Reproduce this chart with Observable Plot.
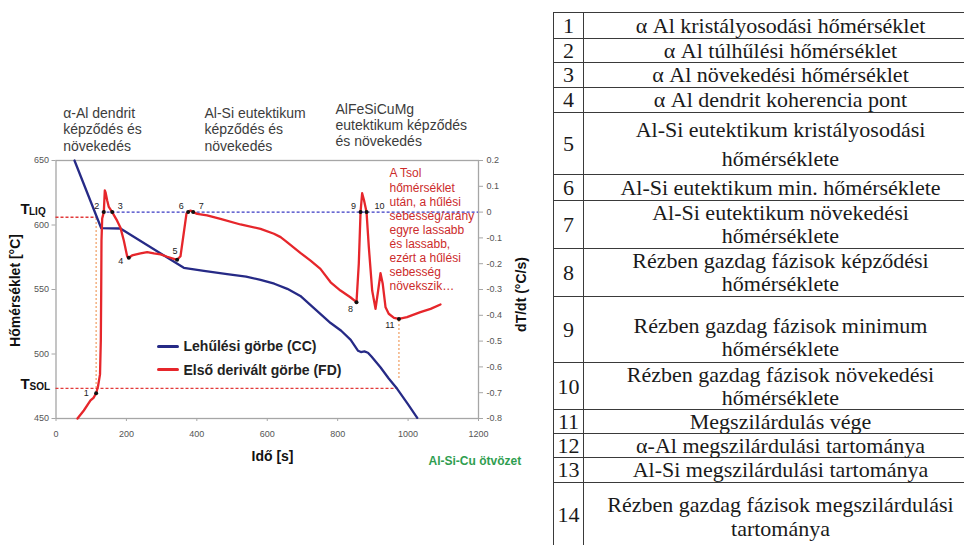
<!DOCTYPE html>
<html><head><meta charset="utf-8">
<script src="https://cdn.jsdelivr.net/npm/d3@7"></script>
<script src="https://cdn.jsdelivr.net/npm/@observablehq/plot@0.6"></script>
<style>
html,body{margin:0;padding:0;background:#fff;width:964px;height:545px;overflow:hidden;position:relative;}
#chart{position:absolute;left:0;top:0;}
#tbl{position:absolute;left:553px;top:12px;border-collapse:collapse;font-family:"Liberation Serif","Times New Roman",serif;font-size:22px;color:#1a1a1a;table-layout:fixed;width:425px;}
#tbl td{border:1.5px solid #3a3a3a;padding:0;text-align:center;line-height:23px;white-space:pre-line;}
#tbl td.n{width:29px;}
</style></head><body>
<div id="chart"></div>
<table id="tbl"></table>
<script>
// ---- data ----
const ccTime = [52.5,128.5,183,363,420,486,540,581,620,657,694,731,780,810,837,858,866,876,886,896,922,945,969,1000,1026];
const ccTemp = [650,597.5,597.3,566.8,564.5,562,560,557.5,554.5,550.5,545,536,524,518,511,502.5,501.5,502,501,498,489.5,481,473,461,450.5];

const fdTime = [61,79,98,106.5,114,119.3,125,127.3,128.4,129.2,131.2,135.8,138.6,141,145.4,150,159.6,171.8,183.2,192.6,202.2,206.8,216,240,259,278,297,316,344,353.6,363,370.7,375.4,382,389.6,401,429,467,524,581,619,638,657,694,723,751,780,808,836,853.5,860,865,869.5,875,882,888.5,898,907.5,915,921.7,928,936,945,960,974,997,1035,1064,1092];
const fdRate = [-0.8,-0.769,-0.73,-0.72,-0.702,-0.676,-0.629,-0.498,-0.304,-0.11,-0.025,0,0.084,0.075,0.045,0.02,0,-0.029,-0.061,-0.11,-0.172,-0.177,-0.168,-0.16,-0.155,-0.16,-0.164,-0.173,-0.185,-0.171,-0.08,-0.005,0,0.006,0,-0.007,-0.013,-0.026,-0.048,-0.065,-0.084,-0.097,-0.117,-0.158,-0.188,-0.22,-0.272,-0.304,-0.33,-0.349,-0.2,0,0.073,0.045,0,-0.136,-0.304,-0.375,-0.304,-0.237,-0.278,-0.369,-0.394,-0.41,-0.414,-0.407,-0.388,-0.375,-0.358];

const pointIds  = [1,2,3,4,5,6,7,8,9,10,11];
const pointTime = [114,135.8,159.6,206.8,344,375.4,389.6,853.5,865,882,974];
const pointRate = [-0.702,0,0,-0.177,-0.185,0,0,-0.349,0,0,-0.414];

const timeTicks = [0,200,400,600,800,1000,1200];
const tempTicks = [650,600,550,500,450];
const rateTicks = [0.2,0.1,0,-0.1,-0.2,-0.3,-0.4,-0.5,-0.6,-0.7,-0.8];

const tLiq = 606, tLiqEnd = 116, tLiqTime = 114;
const tSol = 473.3, tSolEnd = 969;
const zeroStart = 131;
const endTime = 974, endRateTop = -0.414, endRateBottom = -0.645;

const phaseTexts = ["α-Al dendrit\nképződés és\nnövekedés","Al-Si eutektikum\nképződés és\nnövekedés","AlFeSiCuMg\neutektikum képződés\nés növekedés"];
const noteText = "A Tsol\nhőmérséklet\nután, a hűlési\nsebesség/arány\negyre lassabb\nés lassabb,\nezért a hűlési\nsebesség\nnövekszik…";
const legendTexts = ["Lehűlési görbe (CC)","Első derivált görbe (FD)"];

const tableNums = ["1","2","3","4","5","6","7","8","9","10","11","12","13","14"];
const tableTexts = [
 "α Al kristályosodási hőmérséklet",
 "α Al túlhűlési hőmérséklet",
 "α Al növekedési hőmérséklet",
 "α Al dendrit koherencia pont",
 "Al-Si eutektikum kristályosodási\nhőmérséklete",
 "Al-Si eutektikum min. hőmérséklete",
 "Al-Si eutektikum növekedési\nhőmérséklete",
 "Rézben gazdag fázisok képződési\nhőmérséklete",
 "Rézben gazdag fázisok minimum\nhőmérséklete",
 "Rézben gazdag fázisok növekedési\nhőmérséklete",
 "Megszilárdulás vége",
 "α-Al megszilárdulási tartománya",
 "Al-Si megszilárdulási tartománya",
 "Rézben gazdag fázisok megszilárdulási\ntartománya"];
// table layout (styles, not data)
const rowHeights = [25.6,24.4,24.6,25.4,62.3,25.7,47.6,48.4,66,47.3,23.3,24,24.4,64];
const rowPadTop  = [0,0,0,0,0,0,0,0,16,0,0,0,0,6];
const rowLineH   = [23,23,23,23,29,23,23,23,23,23,23,23,23,24];

// ---- build ----
const toT = d => 450 + (d + 0.8) * 200;       // rate axis -> temperature axis
const fromT = v => (v - 450) / 200 - 0.8;
const cc = ccTime.map((t,i) => ({t, T: ccTemp[i]}));
const fd = fdTime.map((t,i) => ({t, T: toT(fdRate[i])}));
const pts = pointIds.map((id,i) => ({id: String(id), t: pointTime[i], T: toT(pointRate[i])}));
const pick = ids => pts.filter(p => ids.includes(+p.id));

const BLUE = "#262a86", RED = "#e6262b", DBLUE = "#3a3ac4", DRED = "#e23a3a", ORANGE = "#f1a46c";
const SANS = "Liberation Sans, Arial, Helvetica, sans-serif";
const pxT = py => 650 - (py - 160) / 1.29;
const pxX = px => (px - 55.5) / 0.352083;

const chart = Plot.plot({
  width: 540, height: 545,
  marginLeft: 55.5, marginRight: 62, marginTop: 160, marginBottom: 127,
  x: {domain: [0, 1200]},
  y: {domain: [450, 650]},
  style: {fontFamily: SANS, background: "white", overflow: "visible"},
  marks: [
    Plot.frame({stroke: "#a6a6a6", strokeWidth: 1.3}),
    Plot.axisX({ticks: timeTicks, tickFormat: d => String(d), tickSize: 3, tickPadding: 9, fontSize: 9, stroke: "#a6a6a6", fill: "#555", label: null}),
    Plot.axisY({anchor: "left", ticks: tempTicks, tickFormat: d => String(d), tickSize: 4, tickPadding: 3, fontSize: 9, stroke: "#a6a6a6", fill: "#555", label: null}),
    Plot.axisY({anchor: "right", ticks: rateTicks.map(toT), tickFormat: v => {const d = Math.round(fromT(v)*10)/10; return d === 0 ? "0" : String(d);}, tickSize: 4, tickPadding: 4, fontSize: 9, stroke: "#a6a6a6", fill: "#555", label: null}),
    // guide lines
    Plot.ruleY([tLiq], {x1: 0, x2: tLiqEnd, stroke: DRED, strokeWidth: 1.3, strokeDasharray: "3,2"}),
    Plot.ruleY([tSol], {x1: 0, x2: tSolEnd, stroke: DRED, strokeWidth: 1.3, strokeDasharray: "3,2"}),
    Plot.ruleY([toT(0)], {x1: zeroStart, x2: 1200, stroke: DBLUE, strokeWidth: 1.3, strokeDasharray: "3,2"}),
    Plot.ruleX([tLiqTime], {y1: tSol, y2: tLiq, stroke: ORANGE, strokeWidth: 1.3, strokeDasharray: "2,2"}),
    Plot.ruleX([endTime], {y1: toT(endRateBottom), y2: toT(endRateTop), stroke: ORANGE, strokeWidth: 1.3, strokeDasharray: "2,2"}),
    // curves
    Plot.line(cc, {x: "t", y: "T", stroke: BLUE, strokeWidth: 2.3}),
    Plot.line(fd, {x: "t", y: "T", stroke: RED, strokeWidth: 2.3}),
    Plot.dot(pts, {x: "t", y: "T", r: 2, fill: "#111", stroke: "none"}),
    Plot.text(pick([2,6,9]), {x: "t", y: "T", text: "id", dx: -7, dy: -6, fontSize: 9, fill: "#222"}),
    Plot.text(pick([3,7]), {x: "t", y: "T", text: "id", dx: 8, dy: -6, fontSize: 9, fill: "#222"}),
    Plot.text(pick([10]), {x: "t", y: "T", text: "id", dx: 13, dy: -6, fontSize: 9, fill: "#222"}),
    Plot.text(pick([1]), {x: "t", y: "T", text: "id", dx: -10, dy: 0, fontSize: 9, fill: "#222"}),
    Plot.text(pick([4]), {x: "t", y: "T", text: "id", dx: -8, dy: 3, fontSize: 9, fill: "#222"}),
    Plot.text(pick([5]), {x: "t", y: "T", text: "id", dx: -2, dy: -9, fontSize: 9, fill: "#222"}),
    Plot.text(pick([8]), {x: "t", y: "T", text: "id", dx: -6, dy: 7, fontSize: 9, fill: "#222"}),
    Plot.text(pick([11]), {x: "t", y: "T", text: "id", dx: -9, dy: 6, fontSize: 9, fill: "#222"}),
    // legend
    Plot.line([{t: pxX(158), T: pxT(346)}, {t: pxX(177), T: pxT(346)}], {x: "t", y: "T", stroke: BLUE, strokeWidth: 3}),
    Plot.line([{t: pxX(158), T: pxT(369)}, {t: pxX(177), T: pxT(369)}], {x: "t", y: "T", stroke: RED, strokeWidth: 3}),
    Plot.text([legendTexts[0]], {x: pxX(183), y: pxT(346), text: d => d, textAnchor: "start", fontSize: 14, fontWeight: "bold", fill: "#222"}),
    Plot.text([legendTexts[1]], {x: pxX(183), y: pxT(370), text: d => d, textAnchor: "start", fontSize: 14, fontWeight: "bold", fill: "#222"}),
    // phase annotations
    Plot.text([phaseTexts[0]], {x: pxX(62.7), y: pxT(105.4), text: d => d, textAnchor: "start", lineAnchor: "top", lineHeight: 1.18, fontSize: 14, fill: "#3c3c3c"}),
    Plot.text([phaseTexts[1]], {x: pxX(204), y: pxT(105.4), text: d => d, textAnchor: "start", lineAnchor: "top", lineHeight: 1.18, fontSize: 14, fill: "#3c3c3c"}),
    Plot.text([phaseTexts[2]], {x: pxX(335), y: pxT(102), text: d => d, textAnchor: "start", lineAnchor: "top", lineHeight: 1.14, fontSize: 14, fill: "#3c3c3c"}),
    Plot.text([noteText], {x: pxX(389), y: pxT(167), text: d => d, textAnchor: "start", lineAnchor: "top", lineHeight: 1.17, fontSize: 12, fill: "#cc2b2b"}),
    // T labels
    Plot.text(["T"], {x: pxX(20), y: pxT(208.5), text: d => d, textAnchor: "start", fontSize: 15, fontWeight: "bold", fill: "#111"}),
    Plot.text(["LIQ"], {x: pxX(28.5), y: pxT(211.3), text: d => d, textAnchor: "start", fontSize: 10, fontWeight: "bold", fill: "#111"}),
    Plot.text(["T"], {x: pxX(20), y: pxT(383.2), text: d => d, textAnchor: "start", fontSize: 15, fontWeight: "bold", fill: "#111"}),
    Plot.text(["SOL"], {x: pxX(29), y: pxT(386.3), text: d => d, textAnchor: "start", fontSize: 10, fontWeight: "bold", fill: "#111"}),
    // axis titles
    Plot.text(["Hőmérséklet [°C]"], {x: pxX(15), y: pxT(290), text: d => d, rotate: -90, fontSize: 14, fontWeight: "bold", fill: "#111"}),
    Plot.text(["dT/dt (°C/s)"], {x: pxX(521), y: pxT(294), text: d => d, rotate: -90, fontSize: 14, fontWeight: "bold", fill: "#111"}),
    Plot.text(["Idő [s]"], {x: pxX(272), y: pxT(456), text: d => d, fontSize: 14, fontWeight: "bold", fill: "#111"}),
    Plot.text(["Al-Si-Cu ötvözet"], {x: pxX(428), y: pxT(460.5), text: d => d, textAnchor: "start", fontSize: 12, fontWeight: "bold", fill: "#2f9e50"})
  ]
});
document.getElementById("chart").appendChild(chart);

const tbl = document.getElementById("tbl");
tableNums.forEach((n, i) => {
  const tr = document.createElement("tr");
  tr.style.height = rowHeights[i] + "px";
  const a = document.createElement("td"); a.className = "n"; a.textContent = n;
  const b = document.createElement("td"); b.textContent = tableTexts[i];
  b.style.paddingTop = rowPadTop[i] + "px";
  b.style.lineHeight = rowLineH[i] + "px";
  tr.appendChild(a); tr.appendChild(b); tbl.appendChild(tr);
});
</script>
</body></html>
